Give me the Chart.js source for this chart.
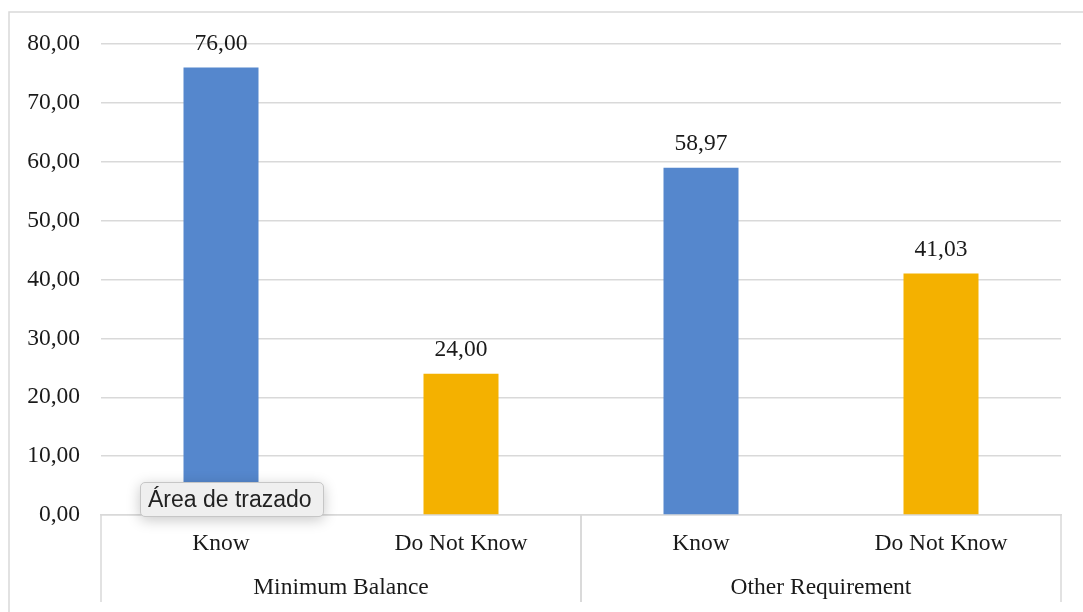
<!DOCTYPE html>
<html>
<head>
<meta charset="utf-8">
<script src="https://cdn.jsdelivr.net/npm/chart.js@4"></script>
<style>
  html, body { margin: 0; padding: 0; background: #fff; }
  #wrap { position: relative; width: 1083px; height: 612px; }
  #tip {
    position: absolute; left: 140px; top: 482px; width: 184px; height: 35px;
    box-sizing: border-box; padding: 0 0 0 7px;
    background: #efefef; border: 1px solid #c6c6c6; border-radius: 5px;
    box-shadow: 0 3px 14px rgba(0,0,0,0.22);
    font-family: "Liberation Sans", Arial, sans-serif; font-size: 23px; line-height: 33px;
    color: #222; white-space: nowrap;
  }
</style>
</head>
<body>
<div id="wrap">
  <canvas id="c" width="1083" height="612"></canvas>
  <div id="tip">Área de trazado</div>
</div>
<script>
const groups = ["Minimum Balance", "Minimum Balance", "Other Requirement", "Other Requirement"];
const categories = ["Know", "Do Not Know", "Know", "Do Not Know"];
const values = [76.00, 24.00, 58.97, 41.03];
const yTicks = [0, 10, 20, 30, 40, 50, 60, 70, 80];

const colorFor = { "Know": "#5587CD", "Do Not Know": "#F4B100" };
const fmt = v => v.toFixed(2).replace('.', ',');
const serif = '"Liberation Serif", "Times New Roman", serif';
const FS = 23.5;

const decor = {
  id: 'decor',
  beforeDraw(chart) {
    const ctx = chart.ctx;
    ctx.save();
    ctx.strokeStyle = '#d9d9d9';
    ctx.lineWidth = 1.5;
    ctx.strokeRect(9, 12, 1200, 800);
    ctx.restore();
  },
  afterDraw(chart) {
    const ctx = chart.ctx;
    const xs = chart.scales.x;
    const meta = chart.getDatasetMeta(0);
    ctx.save();
    ctx.fillStyle = '#1a1a1a';
    ctx.font = FS + 'px ' + serif;
    ctx.textAlign = 'center';
    ctx.textBaseline = 'middle';
    meta.data.forEach((bar, i) => {
      ctx.fillText(fmt(values[i]), bar.x, bar.y - 24);
    });
    const half = (xs.getPixelForValue(1) - xs.getPixelForValue(0)) / 2;
    ctx.strokeStyle = '#d9d9d9';
    ctx.lineWidth = 1.5;
    const top = xs.top, bot = xs.top + 87;
    const uniq = [];
    groups.forEach((g, i) => {
      if (!uniq.length || uniq[uniq.length - 1].name !== g) uniq.push({ name: g, first: i, last: i });
      else uniq[uniq.length - 1].last = i;
    });
    uniq.forEach(g => {
      const l = xs.getPixelForValue(g.first) - half;
      const r = xs.getPixelForValue(g.last) + half;
      ctx.beginPath();
      ctx.moveTo(l, top); ctx.lineTo(l, bot);
      ctx.moveTo(r, top); ctx.lineTo(r, bot);
      ctx.stroke();
      ctx.fillText(g.name, (l + r) / 2, top + 73);
    });
    ctx.restore();
  }
};

new Chart(document.getElementById('c'), {
  type: 'bar',
  data: {
    labels: categories,
    datasets: [{
      data: values,
      backgroundColor: categories.map(c => colorFor[c]),
      borderWidth: 0,
      barPercentage: 0.3125,
      categoryPercentage: 1.0
    }]
  },
  options: {
    responsive: false,
    animation: false,
    events: [],
    layout: { padding: { top: 44, right: 22, bottom: 0, left: 0 } },
    plugins: { legend: { display: false }, tooltip: { enabled: false } },
    scales: {
      x: {
        grid: { display: false, drawTicks: false },
        border: { display: true, color: '#d9d9d9', width: 1.5 },
        ticks: { color: '#1a1a1a', font: { family: serif, size: FS }, padding: 15, maxRotation: 0, autoSkip: false },
        afterFit(s) { s.height = 97; }
      },
      y: {
        min: 0, max: 80,
        afterBuildTicks(s) { s.ticks = yTicks.map(v => ({ value: v })); },
        grid: { color: '#d9d9d9', lineWidth: 1.5, drawTicks: false },
        border: { display: false },
        ticks: { color: '#1a1a1a', font: { family: serif, size: FS }, padding: 21, callback: v => fmt(v) },
        afterFit(s) { s.width = 101; }
      }
    }
  },
  plugins: [decor]
});
</script>
</body>
</html>
